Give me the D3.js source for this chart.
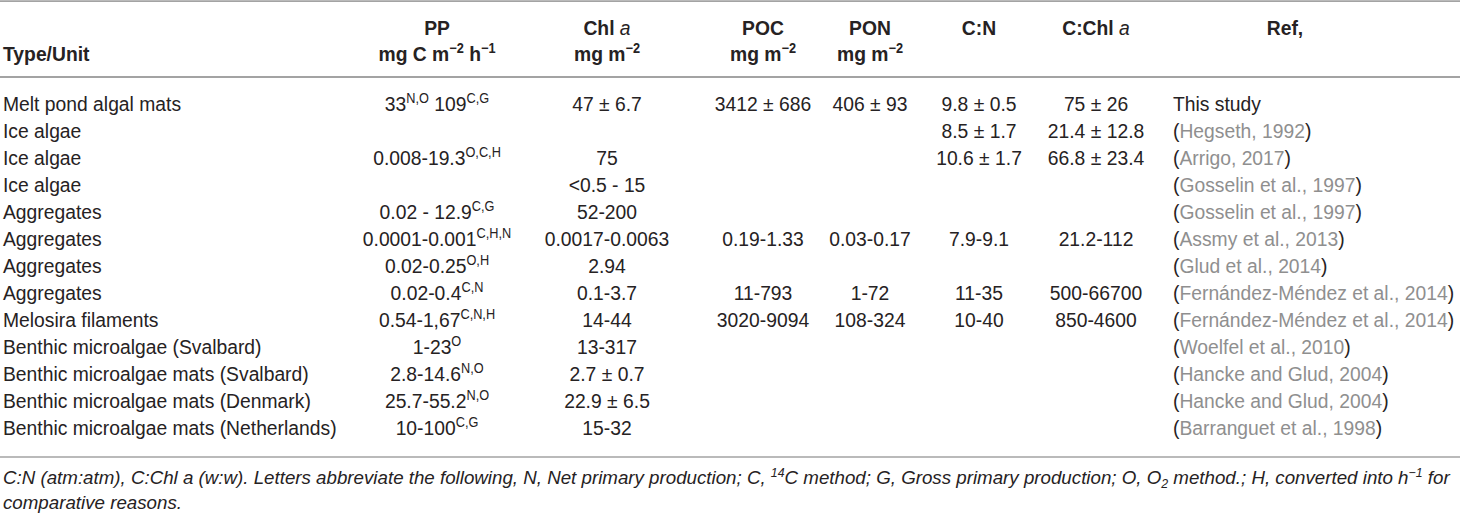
<!DOCTYPE html>
<html><head><meta charset="utf-8">
<script src="https://cdn.jsdelivr.net/npm/d3@7"></script>
<style>
body{margin:0;background:#fff;}
svg{display:block;}
</style></head>
<body>
<svg id="chart" width="1460" height="513"></svg>
<script>
// ---- data ----
const types = ["Melt pond algal mats","Ice algae","Ice algae","Ice algae","Aggregates","Aggregates","Aggregates","Aggregates","Melosira filaments","Benthic microalgae (Svalbard)","Benthic microalgae mats (Svalbard)","Benthic microalgae mats (Denmark)","Benthic microalgae mats (Netherlands)"];
const ppValues = ["33^{N,O} 109^{C,G}","","0.008-19.3^{O,C,H}","","0.02 - 12.9^{C,G}","0.0001-0.001^{C,H,N}","0.02-0.25^{O,H}","0.02-0.4^{C,N}","0.54-1,67^{C,N,H}","1-23^{O}","2.8-14.6^{N,O}","25.7-55.2^{N,O}","10-100^{C,G}"];
const chlValues = ["47 ± 6.7","","75","<0.5 - 15","52-200","0.0017-0.0063","2.94","0.1-3.7","14-44","13-317","2.7 ± 0.7","22.9 ± 6.5","15-32"];
const pocValues = ["3412 ± 686","","","","","0.19-1.33","","11-793","3020-9094","","","",""];
const ponValues = ["406 ± 93","","","","","0.03-0.17","","1-72","108-324","","","",""];
const cnValues = ["9.8 ± 0.5","8.5 ± 1.7","10.6 ± 1.7","","","7.9-9.1","","11-35","10-40","","","",""];
const cchlValues = ["75 ± 26","21.4 ± 12.8","66.8 ± 23.4","","","21.2-112","","500-66700","850-4600","","","",""];
const refs = ["This study","Hegseth, 1992","Arrigo, 2017","Gosselin et al., 1997","Gosselin et al., 1997","Assmy et al., 2013","Glud et al., 2014","Fernández-Méndez et al., 2014","Fernández-Méndez et al., 2014","Woelfel et al., 2010","Hancke and Glud, 2004","Hancke and Glud, 2004","Barranguet et al., 1998"];
const columns = ["type","pp","chl","poc","pon","cn","cchl","ref"];
const headerLine1 = ["","PP","Chl _{a}","POC","PON","C:N","C:Chl _{a}","Ref,"];
const headerLine2 = ["Type/Unit","mg C m^{−2} h^{−1}","mg m^{−2}","mg m^{−2}","mg m^{−2}","","",""];
const footnote1 = "C:N (atm:atm), C:Chl a (w:w). Letters abbreviate the following, N, Net primary production; C, ^{14}C method; G, Gross primary production; O, O~{2} method.; H, converted into h^{−1} for";
const footnote2 = "comparative reasons.";

// ---- layout ----
const FONT = "'Liberation Sans',Arial,Helvetica,sans-serif";
const SX = 0.92;           // horizontal condensing of the typeface
const FS = 21;             // body font size
const svg = d3.select("#chart");
const xCol = d3.scaleOrdinal().domain(columns).range([3,437,607,763,870,979,1096,1285]);
const refX = 1173;
const yRow = d3.scaleLinear().domain([0, types.length-1]).range([111, 435]);
const textColor = "#262223", refColor = "#8f8f8f", ruleColor = "#a3a3a3";

// markup: ^{..} superscript, ~{..} subscript, _{..} italic
function addRich(sel, str, fs){
  const re = /(\^\{[^}]*\}|~\{[^}]*\}|_\{[^}]*\})/g;
  const parts = str.split(re).filter(s=>s!=="");
  let pending = 0;
  parts.forEach(p=>{
    let ts;
    if(p.startsWith("^{")){
      const up = fs*0.36;
      ts = sel.append("tspan").attr("font-size", fs*0.66).text(p.slice(2,-1));
      ts.attr("dy", pending - up); pending = up;
    } else if(p.startsWith("~{")){
      const dn = fs*0.2;
      ts = sel.append("tspan").attr("font-size", fs*0.66).text(p.slice(2,-1));
      ts.attr("dy", pending + dn); pending = -dn;
    } else if(p.startsWith("_{")){
      ts = sel.append("tspan").attr("font-style","italic").attr("font-weight","normal").text(p.slice(2,-1));
      if(pending){ ts.attr("dy", pending); pending = 0; }
    } else {
      ts = sel.append("tspan").text(p);
      if(pending){ ts.attr("dy", pending); pending = 0; }
    }
  });
}
function placeText(parent, x, y, anchor, sx){
  return parent.append("text")
    .attr("transform", `translate(${x},${y}) scale(${sx},1)`)
    .attr("text-anchor", anchor)
    .attr("font-family", FONT).attr("fill", textColor);
}

// rules
const rules = [{y:1.2,w:1.8},{y:77,w:2},{y:457,w:1.4}];
svg.selectAll("line.rule").data(rules).enter().append("line")
  .attr("x1",0).attr("x2",1460).attr("y1",d=>d.y).attr("y2",d=>d.y)
  .attr("stroke",ruleColor).attr("stroke-width",d=>d.w);

// header
columns.forEach((c,i)=>{
  const anchor = c==="type" ? "start" : "middle";
  if(headerLine1[i]){
    const t = placeText(svg, xCol(c), 35, anchor, SX).attr("font-size",FS).attr("font-weight","bold");
    addRich(t, headerLine1[i], FS);
  }
  if(headerLine2[i]){
    const t = placeText(svg, xCol(c), 61, anchor, SX).attr("font-size",FS).attr("font-weight","bold");
    addRich(t, headerLine2[i], FS);
  }
});

// body
const colData = {type:types, pp:ppValues, chl:chlValues, poc:pocValues, pon:ponValues, cn:cnValues, cchl:cchlValues};
Object.keys(colData).forEach(c=>{
  const g = svg.append("g");
  colData[c].forEach((v,r)=>{
    if(!v) return;
    const t = placeText(g, xCol(c), yRow(r), c==="type" ? "start":"middle", SX).attr("font-size",FS);
    addRich(t, v, FS);
  });
});
// refs (left aligned)
refs.forEach((v,r)=>{
  const t = placeText(svg, refX, yRow(r), "start", SX).attr("font-size",FS);
  if(r===0){ t.text(v); }
  else {
    t.append("tspan").text("(");
    t.append("tspan").attr("fill",refColor).text(v);
    t.append("tspan").text(")");
  }
});

// footnote (italic), fitted to the table width
const FFS = 19;
const fn = [footnote1, footnote2].map((f,i)=>{
  const t = placeText(svg, 3, [484,509][i], "start", 1).attr("font-size",FFS).attr("font-style","italic");
  addRich(t, f, FFS);
  return t;
});
const w1 = fn[0].node().getComputedTextLength();
const fsx = Math.min(1, 1447 / w1);
fn.forEach((t,i)=>t.attr("transform", `translate(3,${[484,509][i]}) scale(${fsx},1)`));
</script>
</body></html>
